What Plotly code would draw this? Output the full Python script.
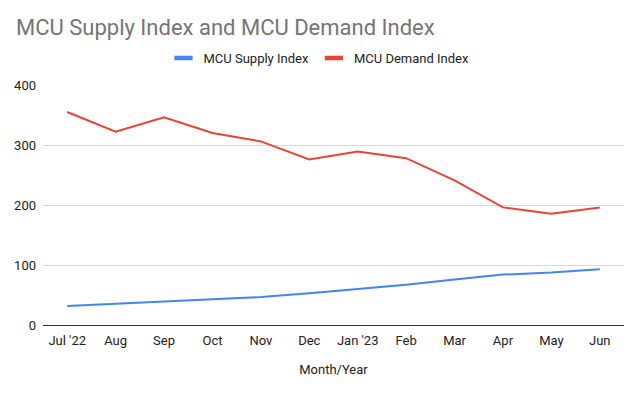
import plotly.graph_objects as go

months = ["Jul '22", "Aug", "Sep", "Oct", "Nov", "Dec", "Jan '23", "Feb", "Mar", "Apr", "May", "Jun"]
supply = [31.5, 35, 39, 42.5, 46.5, 53, 60.5, 67, 76, 84, 87.5, 93]
demand = [355, 322, 346, 320, 306, 276, 289, 278, 241, 196, 185.5, 196]
series_names = ["MCU Supply Index", "MCU Demand Index"]
series_colors = ["#4285F4", "#EA4335"]

fig = go.Figure()
for name, vals, col in zip(series_names, [supply, demand], series_colors):
    fig.add_trace(go.Scatter(x=months, y=vals, mode="lines", name=name, showlegend=False,
                             line=dict(color=col, width=2)))
# legend-only entries with short bar swatches
for name, col in zip(series_names, series_colors):
    fig.add_trace(go.Scatter(x=[None], y=[None], mode="markers", name=name,
                             marker=dict(symbol="line-ew", size=13, color=col,
                                         line=dict(color=col, width=4.5))))

fig.update_layout(
    width=640, height=394,
    margin=dict(l=43, r=16, t=85, b=69, autoexpand=False),
    paper_bgcolor="white", plot_bgcolor="white",
    font=dict(family="Roboto, Arial, sans-serif", size=13, color="#444444"),
    title=dict(text="MCU Supply Index and MCU Demand Index", x=16/640, xanchor="left",
               xref="container",
               y=1 - 27/394, yanchor="middle", pad=dict(l=0, t=0, b=0, r=0),
               font=dict(size=22, color="#757575", family="Roboto, Arial, sans-serif")),
    legend=dict(orientation="h", x=(183.5 - 20) / 640, xanchor="left", xref="container",
                y=1 - 58/394, yanchor="middle", yref="container",
                font=dict(size=13, color="#222222"), itemwidth=30,
                tracegroupgap=0),
    showlegend=True,
)
fig.update_xaxes(type="category", range=[-0.5, 11.5], showgrid=False, showline=True,
                 linecolor="#333333", linewidth=1, ticks="",
                 tickfont=dict(size=13, color="#222222"), ticklabelstandoff=3,
                 title=dict(text="Month/Year", font=dict(size=13, color="#222222"), standoff=18))
fig.update_yaxes(range=[0, 400], dtick=100, showgrid=True, gridcolor="#D9D9D9",
                 zeroline=False, ticks="", tickfont=dict(size=13, color="#222222"),
                 ticklabelstandoff=6)

fig.write_html("out.html", config={"displayModeBar": False},
               post_script="document.body.style.margin='0';")
